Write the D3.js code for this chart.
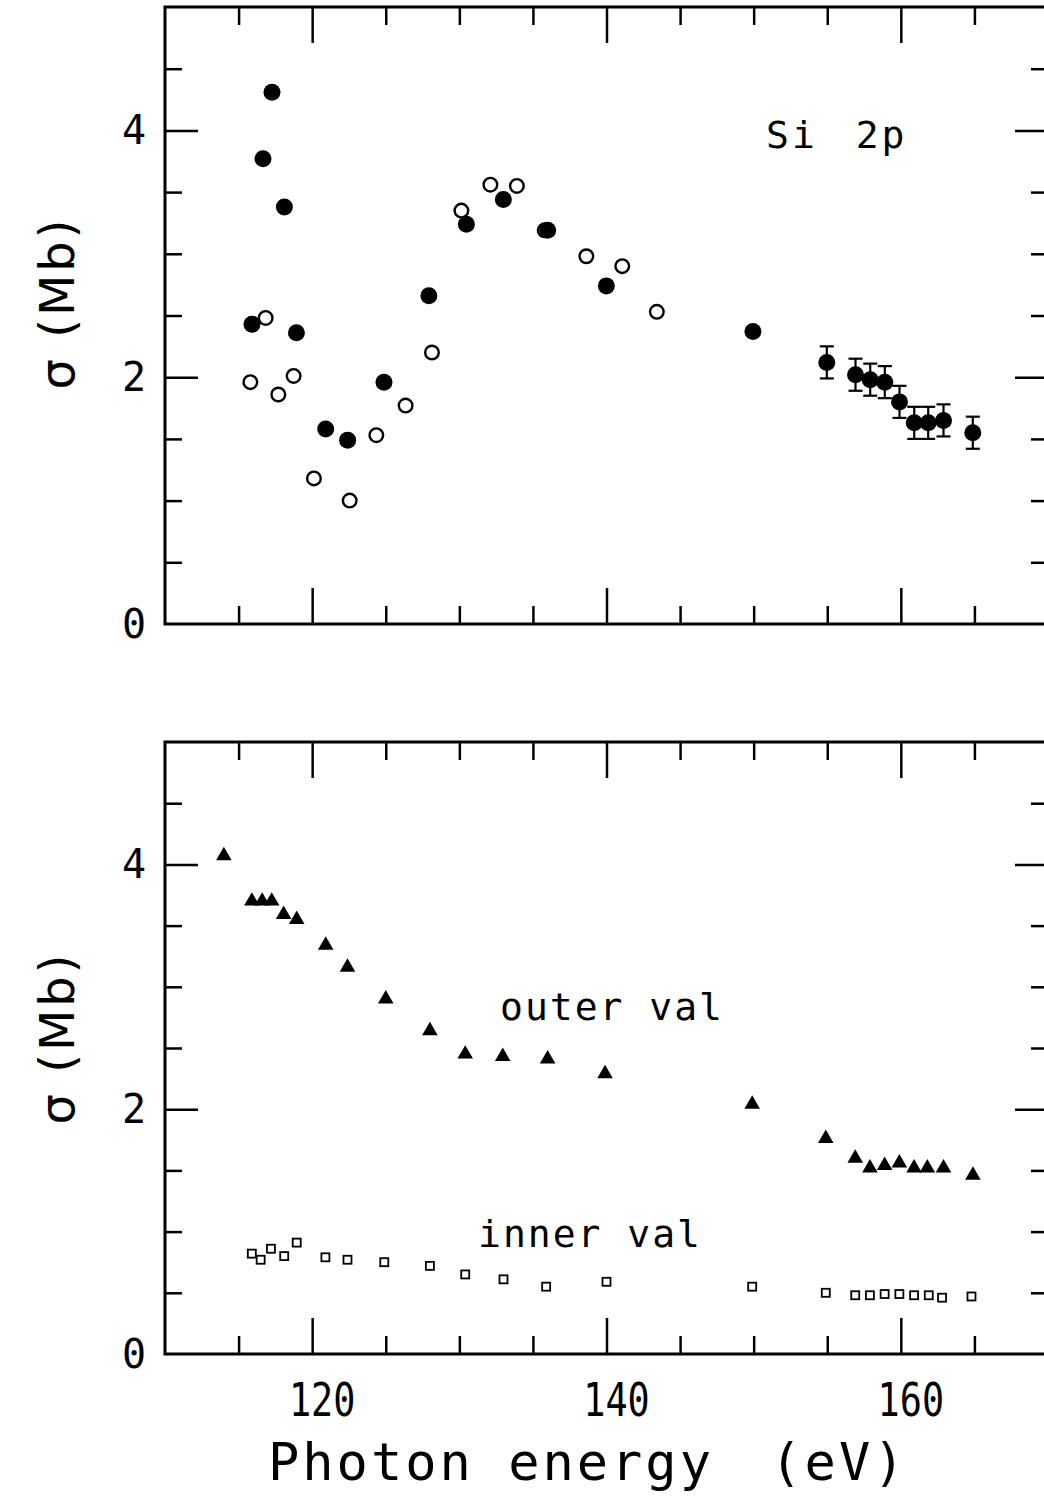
<!DOCTYPE html>
<html>
<head>
<meta charset="utf-8">
<script src="https://cdn.jsdelivr.net/npm/d3@7"></script>
<style>
	body { margin: 0; background: #fff; }
	svg { display: block; }
	.tick line { stroke: #000; stroke-width: 2.5; }
</style>
</head>
<body>
<svg id="chart" width="1044" height="1496"></svg>
<script>
'use strict';

/* global d3 */

// Si 2p, open circles
var openEnergy = [115.8, 116.84, 117.7, 118.74, 120.12, 122.55, 124.36, 126.35, 128.14, 130.14, 132.11, 133.91, 135.8, 138.63, 141.07, 143.42];
var openSigma = [1.96, 2.48, 1.86, 2.01, 1.18, 1.00, 1.53, 1.77, 2.20, 3.35, 3.56, 3.55, 3.19, 2.98, 2.90, 2.53];

// Si 2p, filled circles (with error bars at the high energy end)
var filledEnergy = [115.91, 116.66, 117.27, 118.11, 118.93, 120.92, 122.41, 124.88, 127.93, 130.48, 132.99, 136.0, 139.99, 149.95, 154.97, 156.92, 157.92, 158.91, 159.91, 160.91, 161.86, 162.9, 164.89];
var filledSigma = [2.43, 3.77, 4.31, 3.38, 2.36, 1.58, 1.49, 1.96, 2.66, 3.24, 3.44, 3.19, 2.74, 2.37, 2.12, 2.02, 1.98, 1.96, 1.80, 1.63, 1.63, 1.65, 1.55];
var filledErr = [0, 0, 0, 0, 0, 0, 0, 0, 0, 0, 0, 0, 0, 0.04, 0.13, 0.13, 0.13, 0.13, 0.13, 0.13, 0.13, 0.13, 0.13];

// outer valence, triangles
var outerEnergy = [114.0, 115.9, 116.6, 117.25, 118.06, 118.95, 120.92, 122.4, 125.0, 128.0, 130.4, 132.95, 136.0, 139.9, 149.9, 154.9, 156.9, 157.9, 158.9, 159.9, 160.9, 161.8, 162.9, 164.9];
var outerSigma = [4.07, 3.70, 3.70, 3.70, 3.59, 3.55, 3.34, 3.16, 2.90, 2.64, 2.45, 2.43, 2.41, 2.29, 2.04, 1.76, 1.60, 1.52, 1.54, 1.56, 1.52, 1.52, 1.52, 1.46];

// inner valence, squares
var innerEnergy = [115.9, 116.5, 117.2, 118.1, 118.95, 120.9, 122.4, 124.9, 128.0, 130.4, 133.0, 135.9, 140.0, 149.9, 154.9, 156.9, 157.9, 158.9, 159.9, 160.9, 161.9, 162.8, 164.8];
var innerSigma = [0.82, 0.77, 0.86, 0.80, 0.91, 0.79, 0.77, 0.75, 0.72, 0.65, 0.61, 0.55, 0.59, 0.55, 0.50, 0.48, 0.48, 0.49, 0.49, 0.48, 0.48, 0.46, 0.47];

var xDomain = [110, 170];
var yDomain = [0, 5];
var xMinorTicks = [115, 125, 130, 135, 145, 150, 155, 165];
var xMajorTicks = [120, 140, 160];
var yMinorTicks = [0.5, 1, 1.5, 2.5, 3, 3.5, 4.5];
var yMajorTicks = [2, 4];
var xTickLabels = [120, 140, 160];
var yTickLabels = [0, 2, 4];

var svg = d3.select('#chart');
var left = 165;
var right = 1048;

var x = d3.scaleLinear().domain(xDomain).range([left, right]);

function zip(a, b) {
	return a.map(function (d, i) {
		return { e: d, s: b[i], i: i };
	});
}

function drawTicks(y, top, bottom) {
	var g = svg.append('g');
	function add(axis, tx, ty) {
		var t = g.append('g').attr('transform', 'translate(' + tx + ',' + ty + ')').call(axis);
		t.select('.domain').remove();
	}
	add(d3.axisBottom(x).tickValues(xMinorTicks).tickSize(-18).tickFormat(''), 0, bottom);
	add(d3.axisBottom(x).tickValues(xMajorTicks).tickSize(-36).tickFormat(''), 0, bottom);
	add(d3.axisTop(x).tickValues(xMinorTicks).tickSize(-18).tickFormat(''), 0, top);
	add(d3.axisTop(x).tickValues(xMajorTicks).tickSize(-36).tickFormat(''), 0, top);
	add(d3.axisLeft(y).tickValues(yMinorTicks).tickSize(-17).tickFormat(''), left, 0);
	add(d3.axisLeft(y).tickValues(yMajorTicks).tickSize(-33).tickFormat(''), left, 0);
	add(d3.axisRight(y).tickValues(yMinorTicks).tickSize(-17).tickFormat(''), right, 0);
	add(d3.axisRight(y).tickValues(yMajorTicks).tickSize(-33).tickFormat(''), right, 0);
}

function drawPanel(top, bottom) {
	var y = d3.scaleLinear().domain(yDomain).range([bottom, top]);

	svg.append('rect').attr('x', left).attr('y', top).attr('width', right - left).attr('height', bottom - top)
		.attr('fill', 'none').attr('stroke', '#000').attr('stroke-width', 3);

	drawTicks(y, top, bottom);

	svg.append('g').selectAll('text').data(yTickLabels).enter().append('text')
		.attr('x', 146).attr('y', function (d) {
			return y(d) + 14;
		})
		.attr('text-anchor', 'end')
		.attr('font-family', 'DejaVu Sans Mono')
		.attr('font-size', 40)
		.text(function (d) {
			return d;
		});

	svg.append('text')
		.attr('transform', 'translate(74,' + (top + 296) + ') rotate(-90)')
		.attr('text-anchor', 'middle')
		.attr('font-family', 'DejaVu Sans')
		.attr('font-size', 48)
		.attr('letter-spacing', 3)
		.text('σ (Mb)');

	return y;
}

// top panel: Si 2p
var yTop = drawPanel(7, 624);

var errData = zip(filledEnergy, filledSigma).filter(function (d) {
	return filledErr[d.i] > 0;
});
var err = svg.append('g').attr('stroke', '#000').attr('stroke-width', 2.2);
err.selectAll('line.bar').data(errData).enter().append('line').attr('class', 'bar')
	.attr('x1', function (d) { return x(d.e); })
	.attr('x2', function (d) { return x(d.e); })
	.attr('y1', function (d) { return yTop(d.s - filledErr[d.i]); })
	.attr('y2', function (d) { return yTop(d.s + filledErr[d.i]); });
[-1, 1].forEach(function (sign) {
	err.selectAll('line.cap' + sign).data(errData.filter(function (d) {
		return filledErr[d.i] > 0.08;
	})).enter().append('line').attr('class', 'cap' + sign)
		.attr('x1', function (d) { return x(d.e) - 7; })
		.attr('x2', function (d) { return x(d.e) + 7; })
		.attr('y1', function (d) { return yTop(d.s + sign * filledErr[d.i]); })
		.attr('y2', function (d) { return yTop(d.s + sign * filledErr[d.i]); });
});

svg.append('g').selectAll('circle').data(zip(openEnergy, openSigma)).enter().append('circle')
	.attr('cx', function (d) { return x(d.e); })
	.attr('cy', function (d) { return yTop(d.s); })
	.attr('r', 6.8)
	.attr('fill', '#fff')
	.attr('stroke', '#000')
	.attr('stroke-width', 2.4);

svg.append('g').selectAll('circle').data(zip(filledEnergy, filledSigma)).enter().append('circle')
	.attr('cx', function (d) { return x(d.e); })
	.attr('cy', function (d) { return yTop(d.s); })
	.attr('r', 8.5)
	.attr('fill', '#000');

svg.append('text')
	.attr('x', 766).attr('y', 148)
	.attr('font-family', 'DejaVu Sans Mono')
	.attr('font-size', 38)
	.attr('letter-spacing', 3)
	.text('Si ')
	.append('tspan').attr('dx', 12).text('2p');

// bottom panel: valence
var yBot = drawPanel(742, 1354);

var tri = d3.symbol().type(d3.symbolTriangle).size(105);
svg.append('g').selectAll('path').data(zip(outerEnergy, outerSigma)).enter().append('path')
	.attr('d', tri)
	.attr('transform', function (d) {
		return 'translate(' + x(d.e) + ',' + yBot(d.s) + ')';
	})
	.attr('fill', '#000');

svg.append('g').selectAll('rect').data(zip(innerEnergy, innerSigma)).enter().append('rect')
	.attr('x', function (d) { return x(d.e) - 4; })
	.attr('y', function (d) { return yBot(d.s) - 4; })
	.attr('width', 8)
	.attr('height', 8)
	.attr('fill', '#fff')
	.attr('stroke', '#000')
	.attr('stroke-width', 1.8);

svg.append('text')
	.attr('x', 500).attr('y', 1020)
	.attr('font-family', 'DejaVu Sans Mono')
	.attr('font-size', 38)
	.attr('letter-spacing', 2)
	.text('outer val');

svg.append('text')
	.attr('x', 478).attr('y', 1247)
	.attr('font-family', 'DejaVu Sans Mono')
	.attr('font-size', 38)
	.attr('letter-spacing', 2)
	.text('inner val');

// x tick labels and title
svg.append('g').selectAll('text').data(xTickLabels).enter().append('text')
	.attr('transform', function (d) {
		return 'translate(' + (x(d) + 10) + ',1416) scale(0.8,1)';
	})
	.attr('text-anchor', 'middle')
	.attr('font-family', 'DejaVu Sans Mono')
	.attr('font-size', 46)
	.text(function (d) {
		return d;
	});

svg.append('text')
	.attr('x', 268).attr('y', 1480)
	.attr('font-family', 'DejaVu Sans Mono')
	.attr('font-size', 52)
	.attr('letter-spacing', 3)
	.text('Photon energy ')
	.append('tspan').attr('dx', 22).text('(eV)');
</script>
</body>
</html>
